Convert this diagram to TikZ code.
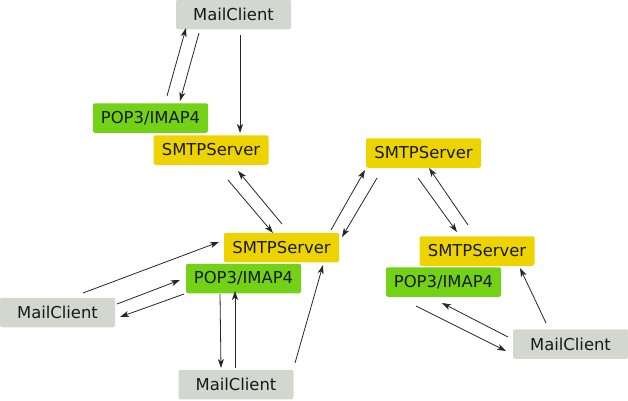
\documentclass[tikz,border=0pt]{standalone}
\usepackage{fontspec}
\setmainfont{DejaVu Sans}
\usetikzlibrary{arrows.meta}
\definecolor{clientgray}{HTML}{D3D7CF}
\definecolor{popgreen}{HTML}{73D216}
\definecolor{smtpyellow}{HTML}{EDD400}
\tikzset{
  box/.style={minimum width=115pt, minimum height=29.5pt, inner sep=0pt, rounded corners=2pt, font=\fontsize{16.4}{19}\selectfont, text=black!90},
  client/.style={box, fill=clientgray},
  pop/.style={box, fill=popgreen},
  smtp/.style={box, fill=smtpyellow},
  link/.style={draw=black!85, line width=0.8pt, -{Stealth[length=9pt,width=6pt,inset=2.5pt]}}
}
\begin{document}
\begin{tikzpicture}[x=1pt,y=-1pt]
\useasboundingbox (0,0) rectangle (628,400);
\node[client] (mc1) at (233.5,14.5) {MailClient};
\node[pop] (pop1) at (150.5,118) {POP3/IMAP4};
\node[smtp] (smtp1) at (211,150) {SMTPServer};
\node[smtp] (smtp2) at (281.5,247.5) {SMTPServer};
\node[pop] (pop2) at (243.5,278.5) {POP3/IMAP4};
\node[client] (mc2) at (57.5,312.5) {MailClient};
\node[client] (mc3) at (236,384.5) {MailClient};
\node[smtp] (smtp3) at (423.5,153) {SMTPServer};
\node[smtp] (smtp4) at (477,251) {SMTPServer};
\node[pop] (pop3) at (443.5,282) {POP3/IMAP4};
\node[client] (mc4) at (570.5,344) {MailClient};

\draw[link] ([shift={(16.5,-22)}]pop1.center) -- ([shift={(-47.5,13.5)}]mc1.center);
\draw[link] ([shift={(-34.5,18.5)}]mc1.center) -- ([shift={(29.5,-17)}]pop1.center);
\draw[link] ([shift={(6.5,20.5)}]mc1.center) -- ([shift={(29,-17)}]smtp1.center);
\draw[link] ([shift={(17,30)}]smtp1.center) -- ([shift={(-8.5,-14.5)}]smtp2.center);
\draw[link] ([shift={(0.5,-23.5)}]smtp2.center) -- ([shift={(27,21)}]smtp1.center);
\draw[link] ([shift={(49.5,-17.5)}]smtp2.center) -- ([shift={(-58.5,17)}]smtp3.center);
\draw[link] ([shift={(-46.5,25)}]smtp3.center) -- ([shift={(60.5,-10.5)}]smtp2.center);
\draw[link] ([shift={(-5.5,25)}]smtp3.center) -- ([shift={(-20,-19)}]smtp4.center);
\draw[link] ([shift={(-9,-26)}]smtp4.center) -- ([shift={(5.5,15)}]smtp3.center);
\draw[link] ([shift={(-24.5,-21)}]mc4.center) -- ([shift={(43,17)}]smtp4.center);
\draw[link] ([shift={(-62.5,-7)}]mc4.center) -- ([shift={(-1.5,21)}]pop3.center);
\draw[link] ([shift={(-27.5,24)}]pop3.center) -- ([shift={(-64.5,7)}]mc4.center);
\draw[link] ([shift={(59,-21.5)}]mc3.center) -- ([shift={(41.5,17.5)}]smtp2.center);
\draw[link] ([shift={(25.5,-19.5)}]mc2.center) -- ([shift={(-62.5,-5.5)}]smtp2.center);
\draw[link] ([shift={(59.5,-8.5)}]mc2.center) -- ([shift={(-63.5,1.5)}]pop2.center);
\draw[link] ([shift={(-59.5,15.5)}]pop2.center) -- ([shift={(62.5,4.5)}]mc2.center);
\draw[link] ([shift={(-23.5,15.5)}]pop2.center) -- ([shift={(-15,-16.5)}]mc3.center);
\draw[link] ([shift={(-1,-16.5)}]mc3.center) -- ([shift={(-8.5,12.5)}]pop2.center);
\end{tikzpicture}
\end{document}
